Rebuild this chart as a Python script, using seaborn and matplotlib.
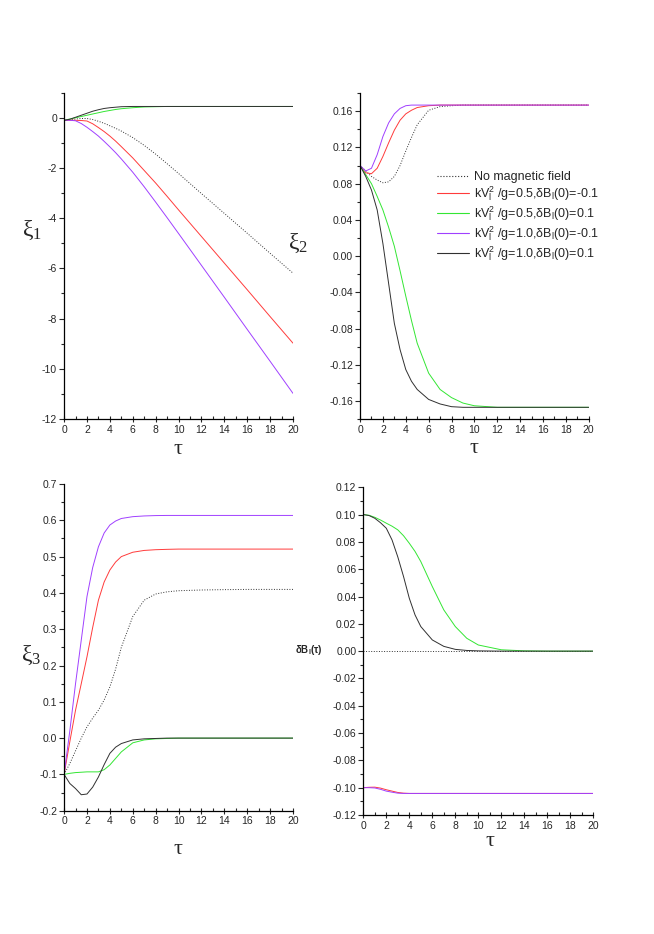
import numpy as np
import pandas as pd
import matplotlib
matplotlib.use('Agg')
import matplotlib.pyplot as plt
from matplotlib.lines import Line2D
from matplotlib.ticker import MultipleLocator, FormatStrFormatter
import seaborn as sns

# sample times (tau) shared by every curve
tau = [0, 0.5, 1, 1.5, 2, 2.5, 3, 3.5, 4, 4.5, 5, 6, 7, 8, 9, 10, 12, 14, 16, 18, 20]

labels = ['No magnetic field',
          'kV$^2_\\mathregular{l}$ /g=0.5,δB$_\\mathregular{l}$(0)=-0.1',
          'kV$^2_\\mathregular{l}$ /g=0.5,δB$_\\mathregular{l}$(0)=0.1',
          'kV$^2_\\mathregular{l}$ /g=1.0,δB$_\\mathregular{l}$(0)=-0.1',
          'kV$^2_\\mathregular{l}$ /g=1.0,δB$_\\mathregular{l}$(0)=0.1']
colors = ['#333333', '#ff3b3b', '#33e633', '#a040ff', '#303030']
styles = [':', '-', '-', '-', '-']

# xi_1
xi1_none = [-0.1, -0.08, -0.05, -0.03, -0.03, -0.07, -0.14, -0.22, -0.32, -0.42, -0.53, -0.79, -1.1, -1.45, -1.83, -2.22, -3.02, -3.81, -4.6, -5.4, -6.19]
xi1_r = [-0.1, -0.1, -0.1, -0.11, -0.13, -0.24, -0.39, -0.55, -0.73, -0.93, -1.15, -1.6, -2.1, -2.6, -3.13, -3.67, -4.73, -5.79, -6.85, -7.92, -8.98]
xi1_g = [-0.1, -0.05, 0.0, 0.05, 0.1, 0.15, 0.2, 0.25, 0.29, 0.33, 0.36, 0.4, 0.43, 0.44, 0.45, 0.45, 0.45, 0.45, 0.45, 0.45, 0.45]
xi1_p = [-0.1, -0.1, -0.12, -0.23, -0.38, -0.55, -0.73, -0.94, -1.16, -1.39, -1.64, -2.17, -2.75, -3.36, -3.98, -4.61, -5.88, -7.15, -8.43, -9.7, -10.98]
xi1_k = [-0.1, -0.06, 0.02, 0.1, 0.18, 0.26, 0.32, 0.37, 0.4, 0.42, 0.44, 0.45, 0.45, 0.45, 0.45, 0.45, 0.45, 0.45, 0.45, 0.45, 0.45]

# xi_2
xi2_none = [0.1, 0.094, 0.088, 0.084, 0.081, 0.082, 0.088, 0.1, 0.116, 0.131, 0.145, 0.161, 0.165, 0.166, 0.1667, 0.1667, 0.1667, 0.1667, 0.1667, 0.1667, 0.1667]
xi2_r = [0.1, 0.092, 0.091, 0.097, 0.11, 0.125, 0.139, 0.15, 0.157, 0.161, 0.164, 0.166, 0.1667, 0.1667, 0.1667, 0.1667, 0.1667, 0.1667, 0.1667, 0.1667, 0.1667]
xi2_g = [0.1, 0.09, 0.08, 0.066, 0.051, 0.032, 0.011, -0.016, -0.044, -0.071, -0.096, -0.129, -0.147, -0.156, -0.162, -0.165, -0.1667, -0.1667, -0.1667, -0.1667, -0.1667]
xi2_p = [0.1, 0.094, 0.097, 0.112, 0.132, 0.147, 0.157, 0.163, 0.166, 0.1667, 0.1667, 0.1667, 0.1667, 0.1667, 0.1667, 0.1667, 0.1667, 0.1667, 0.1667, 0.1667, 0.1667]
xi2_k = [0.1, 0.088, 0.073, 0.051, 0.014, -0.03, -0.074, -0.103, -0.125, -0.138, -0.147, -0.158, -0.163, -0.166, -0.1667, -0.1667, -0.1667, -0.1667, -0.1667, -0.1667, -0.1667]

# xi_3
xi3_none = [-0.1, -0.07, -0.035, 0.0, 0.031, 0.055, 0.077, 0.105, 0.141, 0.19, 0.25, 0.335, 0.38, 0.397, 0.403, 0.406, 0.408, 0.409, 0.4096, 0.4096, 0.4096]
xi3_r = [-0.1, -0.01, 0.077, 0.15, 0.224, 0.305, 0.38, 0.43, 0.463, 0.485, 0.5, 0.512, 0.517, 0.519, 0.52, 0.5207, 0.5207, 0.5207, 0.5207, 0.5207, 0.5207]
xi3_g = [-0.1, -0.097, -0.095, -0.094, -0.093, -0.093, -0.093, -0.087, -0.074, -0.056, -0.038, -0.013, -0.005, -0.002, -0.001, 0.0, 0.0, 0.0, 0.0, 0.0, 0.0]
xi3_p = [-0.1, 0.02, 0.15, 0.27, 0.39, 0.47, 0.527, 0.565, 0.587, 0.598, 0.605, 0.61, 0.612, 0.613, 0.6134, 0.6134, 0.6134, 0.6134, 0.6134, 0.6134, 0.6134]
xi3_k = [-0.1, -0.125, -0.139, -0.156, -0.154, -0.135, -0.107, -0.073, -0.042, -0.025, -0.015, -0.005, -0.002, -0.001, 0.0, 0.0, 0.0, 0.0, 0.0, 0.0, 0.0]

# delta B_l
db_none = [0.0] * 21
db_r = [-0.1, -0.0997, -0.0996, -0.1003, -0.1015, -0.1025, -0.1035, -0.104, -0.1042, -0.1042, -0.1042, -0.1042, -0.1042, -0.1042, -0.1042, -0.1042, -0.1042, -0.1042, -0.1042, -0.1042, -0.1042]
db_g = [0.1, 0.0995, 0.098, 0.096, 0.0937, 0.0915, 0.0888, 0.0845, 0.079, 0.073, 0.0656, 0.0473, 0.0302, 0.018, 0.0094, 0.0045, 0.001, 0.0002, 0.0, 0.0, 0.0]
db_p = [-0.1, -0.1, -0.1002, -0.1012, -0.1025, -0.1033, -0.104, -0.1042, -0.1042, -0.1042, -0.1042, -0.1042, -0.1042, -0.1042, -0.1042, -0.1042, -0.1042, -0.1042, -0.1042, -0.1042, -0.1042]
db_k = [0.1, 0.0993, 0.0973, 0.094, 0.09, 0.0814, 0.069, 0.0546, 0.0387, 0.0265, 0.018, 0.0082, 0.0035, 0.0013, 0.0005, 0.0002, 0.0, 0.0, 0.0, 0.0, 0.0]

sns.set_theme(style='ticks')
plt.rcParams['font.family'] = ['Liberation Sans', 'DejaVu Sans']
plt.rcParams['mathtext.default'] = 'regular'

fig = plt.figure(figsize=(6.54, 9.34), dpi=100)
ax1 = fig.add_axes([0.098, 0.5514, 0.350, 0.3494])
ax2 = fig.add_axes([0.5505, 0.5510, 0.3497, 0.3494])
ax3 = fig.add_axes([0.098, 0.1320, 0.350, 0.3498])
ax4 = fig.add_axes([0.5555, 0.1274, 0.3517, 0.3509])

panels = [
    (ax1, [xi1_none, xi1_r, xi1_g, xi1_p, xi1_k], (-12, 1), 2, 1, '%d'),
    (ax2, [xi2_none, xi2_r, xi2_g, xi2_p, xi2_k], (-0.18, 0.18), 0.04, 0.02, '%.2f'),
    (ax3, [xi3_none, xi3_r, xi3_g, xi3_p, xi3_k], (-0.2, 0.7), 0.1, 0.05, '%.1f'),
    (ax4, [db_none, db_r, db_g, db_p, db_k], (-0.12, 0.12), 0.02, 0.01, '%.2f'),
]

for ax, series, ylim, major, minor, fmt in panels:
    for vals, c, ls in zip(series, colors, styles):
        sns.lineplot(x=tau, y=vals, ax=ax, color=c, linestyle=ls, lw=0.7)
    ax.set_xlim(0, 20)
    ax.set_ylim(*ylim)
    ax.xaxis.set_major_locator(MultipleLocator(2))
    ax.xaxis.set_minor_locator(MultipleLocator(1))
    ax.yaxis.set_major_locator(MultipleLocator(major))
    ax.yaxis.set_minor_locator(MultipleLocator(minor))
    ax.yaxis.set_major_formatter(FormatStrFormatter(fmt))
    ax.tick_params(axis='x', which='major', direction='inout', length=5, width=0.8, labelsize=7.5, pad=1.5)
    ax.tick_params(axis='x', which='minor', direction='in', length=2.5, width=0.8)
    ax.tick_params(axis='y', which='major', direction='out', length=3.5, width=0.8, labelsize=7.5, pad=1.5)
    ax.tick_params(axis='y', which='minor', direction='out', length=2, width=0.8)
    sns.despine(ax=ax)
    for s in ('left', 'bottom'):
        ax.spines[s].set_linewidth(0.9)
        ax.spines[s].set_color('black')
    ax.set_xlabel('')
    ax.set_ylabel('')

handles = [Line2D([], [], color=c, linestyle=ls, lw=0.8) for c, ls in zip(colors, styles)]
ax2.legend(handles, labels, loc='upper left', bbox_to_anchor=(0.31, 0.779), frameon=False, fontsize=9,
           handlelength=2.55, handletextpad=0.4, labelspacing=0.1, borderpad=0)

serif = ['Liberation Serif', 'DejaVu Serif']
W, H = 654, 934
def ftext(px, py, s, **kw):
    fig.text(px / W, 1 - py / H, s, ha='center', va='center', **kw)

ftext(32, 230, 'ξ$_\\mathregular{1}$', family=serif, fontsize=17)
ftext(298, 243, 'ξ$_\\mathregular{2}$', family=serif, fontsize=17)
ftext(31, 655, 'ξ$_\\mathregular{3}$', family=serif, fontsize=17)
ftext(309, 650, 'δB$_\\mathregular{l}$(τ)', fontsize=7, fontweight='bold')
for px, py in [(178, 450), (474, 448), (178, 850), (490, 842)]:
    ftext(px, py, 'τ', family=serif, fontsize=16)

fig.savefig('out.png', dpi=100)
